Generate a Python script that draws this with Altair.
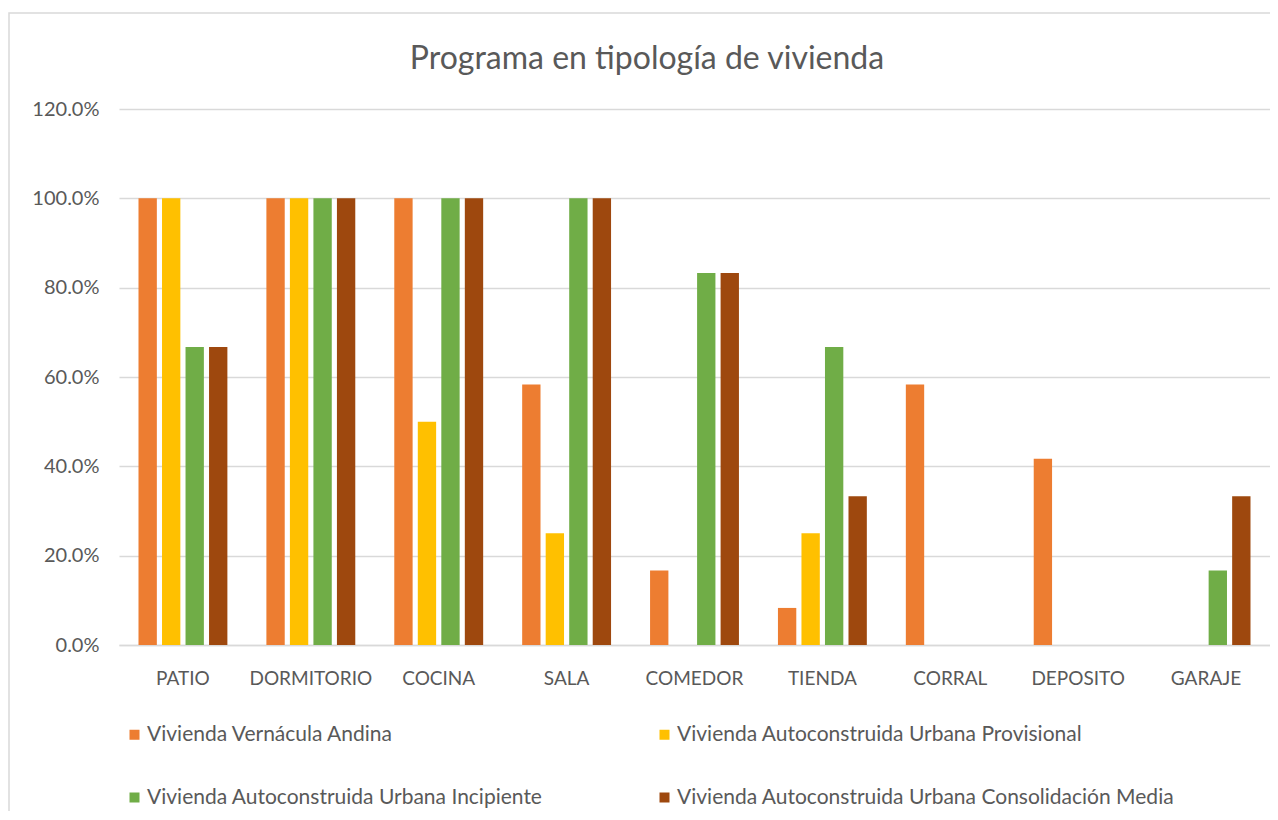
import altair as alt
import pandas as pd

categories = ["PATIO", "DORMITORIO", "COCINA", "SALA", "COMEDOR", "TIENDA", "CORRAL", "DEPOSITO", "GARAJE"]
series = [
    "Vivienda Vernácula Andina",
    "Vivienda Autoconstruida Urbana Provisional",
    "Vivienda Autoconstruida Urbana Incipiente",
    "Vivienda Autoconstruida Urbana Consolidación Media",
]
vernacula = [1.0, 1.0, 1.0, 0.583, 0.167, 0.083, 0.583, 0.417, 0.0]
provisional = [1.0, 1.0, 0.5, 0.25, 0.0, 0.25, 0.0, 0.0, 0.0]
incipiente = [0.667, 1.0, 1.0, 1.0, 0.833, 0.667, 0.0, 0.0, 0.167]
consolidacion = [0.667, 1.0, 1.0, 1.0, 0.833, 0.333, 0.0, 0.0, 0.333]
colors = ["#ED7D31", "#FFC000", "#70AD47", "#9E480E"]
title_text = "Programa en tipología de vivienda"

rows = []
for s, vals in zip(series, [vernacula, provisional, incipiente, consolidacion]):
    for c, v in zip(categories, vals):
        rows.append({"categoria": c, "serie": s, "valor": v})
df = pd.DataFrame(rows)

FONT = "Lato"
GREY = "#595959"

bars = alt.Chart(df).mark_bar().encode(
    x=alt.X("categoria:N", sort=categories,
            scale=alt.Scale(paddingInner=0.305, paddingOuter=0.1525, round=False),
            axis=alt.Axis(title=None, labelAngle=0, labelFont=FONT, labelFontSize=19,
                          labelColor=GREY, labelPadding=24, ticks=False,
                          domainColor="#d9d9d9", domainWidth=1.5)),
    xOffset=alt.XOffset("serie:N", sort=series,
                        scale=alt.Scale(paddingInner=0.22, paddingOuter=0, round=False)),
    y=alt.Y("valor:Q", scale=alt.Scale(domain=[0, 1.2]),
            axis=alt.Axis(title=None, format=".1%", values=[0, 0.2, 0.4, 0.6, 0.8, 1.0, 1.2],
                          labelFont=FONT, labelFontSize=20, labelColor=GREY,
                          labelPadding=20, ticks=False, domain=False,
                          gridColor="#d9d9d9", gridWidth=1.5)),
    color=alt.Color("serie:N", sort=series,
                    scale=alt.Scale(domain=series, range=colors),
                    legend=alt.Legend(title=None, orient="none", legendX=5, legendY=615,
                                      columns=2, direction="horizontal",
                                      columnPadding=111, rowPadding=41,
                                      symbolType="square", symbolSize=100,
                                      symbolStrokeWidth=0, labelFont=FONT,
                                      labelFontSize=21, labelColor=GREY,
                                      labelOffset=2, labelLimit=700)),
)

border = alt.Chart(pd.DataFrame({"a": [0]})).mark_rect(
    fill=None, stroke="#d9d9d9", strokeWidth=1.5
).encode(x=alt.value(-110), x2=alt.value(1250), y=alt.value(-96), y2=alt.value(800))

title = alt.Chart(pd.DataFrame({"t": [title_text]})).mark_text(
    font=FONT, fontSize=32, color=GREY, align="center", baseline="middle"
).encode(text="t:N", x=alt.value(528), y=alt.value(-50))

chart = alt.layer(border, bars, title).properties(
    width=1151, height=536,
    autosize=alt.AutoSizeParams(type="none"),
    padding={"left": 111, "top": 101, "right": 0, "bottom": 166},
).configure_view(stroke=None)

chart.save("out.html", embed_options={"renderer": "svg", "actions": False})
